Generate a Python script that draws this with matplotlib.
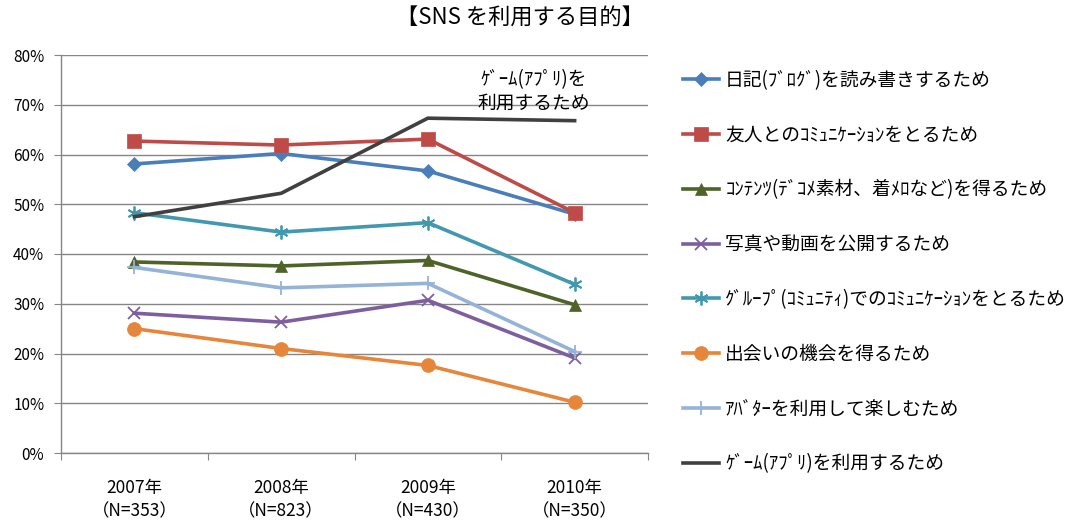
import matplotlib
matplotlib.use("Agg")
import matplotlib.pyplot as plt
from matplotlib.ticker import PercentFormatter

plt.rcParams['font.family'] = ['Noto Sans CJK JP', 'DejaVu Sans']

years = ["2007年", "2008年", "2009年", "2010年"]
samples = ["（N=353）", "（N=823）", "（N=430）", "（N=350）"]

labels = [
    "日記(ﾌﾞﾛｸﾞ)を読み書きするため",
    "友人とのｺﾐｭﾆｹｰｼｮﾝをとるため",
    "ｺﾝﾃﾝﾂ(ﾃﾞｺﾒ素材、着ﾒﾛなど)を得るため",
    "写真や動画を公開するため",
    "ｸﾞﾙｰﾌﾟ(ｺﾐｭﾆﾃｨ)でのｺﾐｭﾆｹｰｼｮﾝをとるため",
    "出会いの機会を得るため",
    "ｱﾊﾞﾀｰを利用して楽しむため",
    "ｹﾞｰﾑ(ｱﾌﾟﾘ)を利用するため",
]

blog = [58.1, 60.2, 56.7, 48.0]
friends = [62.7, 61.9, 63.1, 48.3]
contents = [38.4, 37.6, 38.7, 29.8]
photo = [28.1, 26.3, 30.7, 19.1]
group = [48.3, 44.4, 46.3, 33.9]
meet = [25.0, 21.0, 17.6, 10.2]
avatar = [37.3, 33.2, 34.1, 20.4]
game = [47.5, 52.2, 67.3, 66.8]

series = [blog, friends, contents, photo, group, meet, avatar, game]
colors = ["#4A7EBB", "#BE4B48", "#4F6228", "#7D5F9F", "#4198AF", "#E5863B", "#95B3D7", "#404040"]
markers = ["D", "s", "^", "x", (6, 2, 0), "o", "+", None]
msizes = [7, 10, 9, 9, 10, 10, 10, 0]

fig = plt.figure(figsize=(10.84, 5.2), dpi=100)
ax = fig.add_axes([61/1084, 1-453/520, (648-61)/1084, (453-55)/520])

x = list(range(len(years)))
for vals, c, m, ms, lab in zip(series, colors, markers, msizes, labels):
    ax.plot(x, vals, color=c, lw=2.6, marker=m, markersize=ms,
            markeredgewidth=1.3 if m in ("x", "+", (6, 2, 0)) else 0.5,
            markeredgecolor=c, markerfacecolor=c, label=lab, zorder=3,
            solid_joinstyle='miter')

ax.set_xlim(-0.5, 3.5)
ax.set_ylim(0, 80)
ax.set_yticks(range(0, 81, 10))
ax.yaxis.set_major_formatter(PercentFormatter(decimals=0))
ax.grid(axis='y', color='#868686', lw=1)
ax.set_axisbelow(True)
for s in ["top", "right"]:
    ax.spines[s].set_visible(False)
for s in ["left", "bottom"]:
    ax.spines[s].set_color('#868686')
    ax.spines[s].set_linewidth(1)

ax.set_xticks([-0.5, 0.5, 1.5, 2.5, 3.5])
ax.set_xticklabels([])
ax.tick_params(axis='x', length=5, color='#868686', direction='out')
ax.tick_params(axis='y', length=5, color='#868686', direction='out', labelsize=11, pad=7)
for i, (yl, nl) in enumerate(zip(years, samples)):
    ax.text(i, -7.0, yl, ha='center', va='center', fontsize=12.5)
    ax.text(i, -11.7, nl, ha='center', va='center', fontsize=12.5)

ax.text(2.72, 72.7, "ｹﾞｰﾑ(ｱﾌﾟﾘ)を\n利用するため", ha='center', va='center',
        fontsize=13.5, linespacing=1.15)

fig.text(520/1084, 1-18/520, "【SNS を利用する目的】", ha='center', va='center', fontsize=16)

leg = fig.legend(loc='upper left', bbox_to_anchor=(683/1084, 1-70/520), frameon=False,
                 fontsize=13.5, handlelength=1.9, handletextpad=0.35, labelspacing=1.80,
                 borderaxespad=0, borderpad=0)

fig.savefig("out.png", dpi=100)
